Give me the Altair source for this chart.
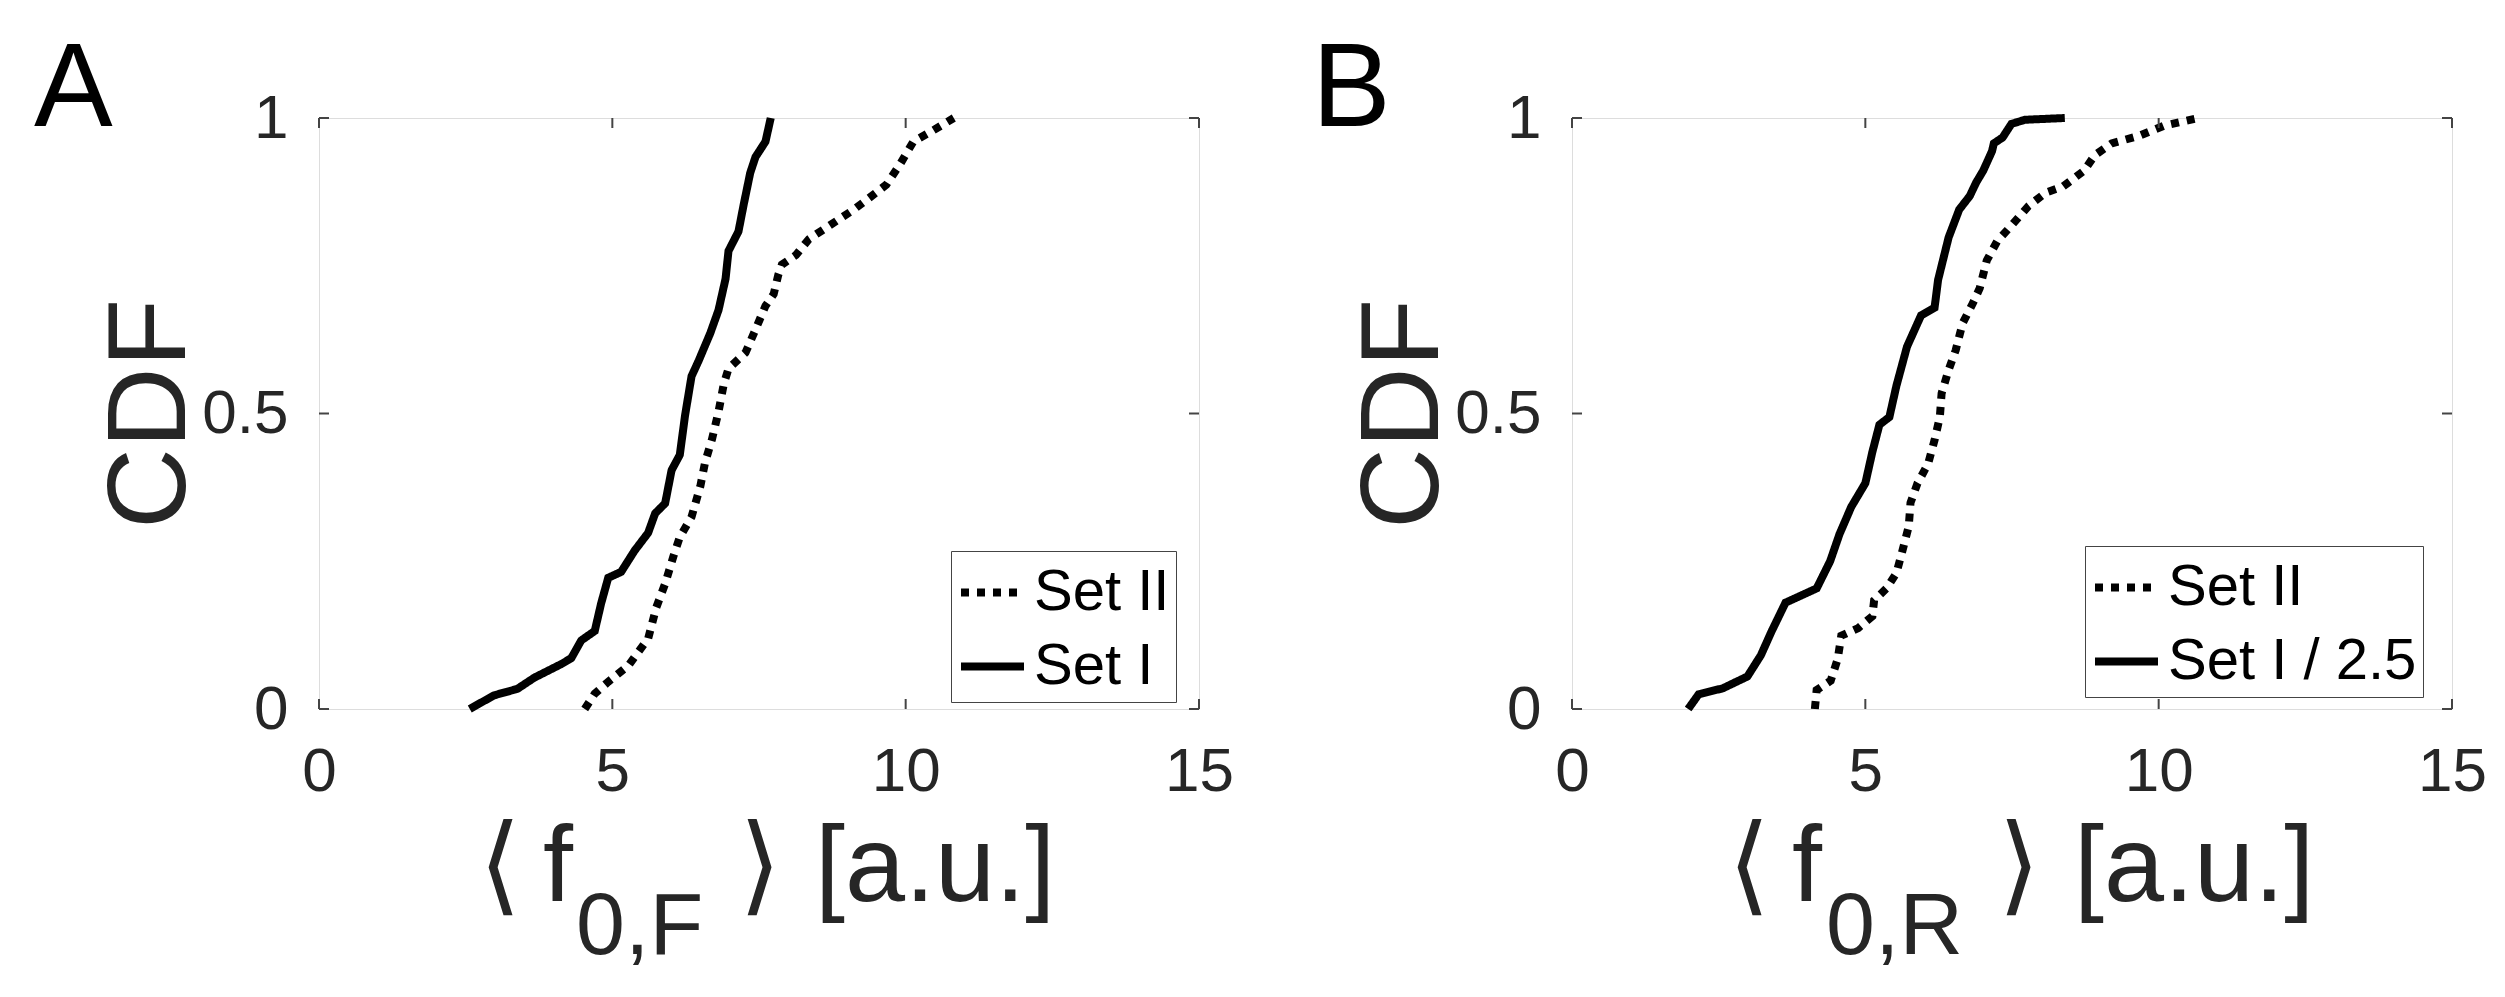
import altair as alt
import pandas as pd

FONT = "Liberation Sans"
INK = "#262626"
FRAME = "#444444"
W, H = 880, 591

x_ticks = [0, 5, 10, 15]
y_ticks = [0, 0.5, 1]

# panel A: <f0,F>
a_set1_x = [2.57, 2.98, 3.38, 3.67, 4.13, 4.30, 4.47, 4.70, 4.81, 4.93,
            5.15, 5.38, 5.61, 5.73, 5.90, 6.01, 6.15, 6.24, 6.35, 6.47,
            6.67, 6.81, 6.93, 6.98, 7.15, 7.24, 7.35, 7.44, 7.61, 7.70]
a_set1_y = [0.0, 0.023, 0.034, 0.053, 0.076, 0.086, 0.116, 0.132, 0.179, 0.222,
            0.232, 0.268, 0.298, 0.331, 0.348, 0.404, 0.430, 0.497, 0.563, 0.589,
            0.636, 0.675, 0.728, 0.775, 0.808, 0.854, 0.907, 0.934, 0.960, 1.0]
a_set2_x = [4.53, 4.70, 4.93, 5.27, 5.61, 5.75, 5.90, 6.04, 6.15, 6.35,
            6.50, 6.58, 6.70, 6.81, 6.90, 6.98, 7.27, 7.44, 7.61, 7.75,
            7.83, 7.89, 8.13, 8.35, 8.70, 9.10, 9.33, 9.67, 9.90, 10.13,
            10.45, 10.82]
a_set2_y = [0.0, 0.026, 0.046, 0.073, 0.119, 0.172, 0.212, 0.258, 0.291, 0.325,
            0.377, 0.417, 0.457, 0.503, 0.550, 0.576, 0.603, 0.642, 0.682, 0.702,
            0.735, 0.752, 0.768, 0.795, 0.818, 0.844, 0.861, 0.887, 0.921, 0.960,
            0.978, 1.0]

# panel B: <f0,R>
b_set1_x = [1.98, 2.16, 2.57, 2.99, 3.22, 3.40, 3.64, 4.17, 4.40, 4.56,
            4.76, 5.00, 5.12, 5.24, 5.41, 5.53, 5.71, 5.95, 6.18, 6.24,
            6.42, 6.60, 6.78, 6.89, 7.01, 7.16, 7.19, 7.34, 7.49, 7.72, 8.40]
b_set1_y = [0.0, 0.025, 0.035, 0.055, 0.091, 0.131, 0.180, 0.204, 0.250, 0.296,
            0.342, 0.382, 0.435, 0.481, 0.494, 0.547, 0.613, 0.666, 0.679, 0.726,
            0.798, 0.845, 0.868, 0.891, 0.911, 0.944, 0.957, 0.967, 0.990, 0.997, 1.0]
b_set2_x = [4.14, 4.17, 4.41, 4.53, 4.59, 4.88, 5.12, 5.15, 5.36, 5.53,
            5.62, 5.74, 5.77, 5.89, 6.07, 6.18, 6.27, 6.30, 6.42, 6.54,
            6.66, 6.83, 6.95, 7.07, 7.25, 7.49, 7.78, 8.08, 8.37, 8.73,
            8.91, 9.20, 9.67, 10.09, 10.68]
b_set2_y = [0.0, 0.032, 0.048, 0.085, 0.124, 0.137, 0.157, 0.184, 0.204, 0.230,
            0.263, 0.309, 0.349, 0.382, 0.415, 0.455, 0.494, 0.534, 0.574, 0.607,
            0.653, 0.686, 0.712, 0.759, 0.792, 0.818, 0.851, 0.874, 0.884, 0.911,
            0.937, 0.957, 0.970, 0.987, 1.0]


def text_layer(txt, x, y, size, color=INK, family=FONT):
    return alt.Chart(pd.DataFrame({"t": [txt]})).mark_text(
        align="left", baseline="alphabetic", fontSize=size, font=family, color=color
    ).encode(x=alt.value(x), y=alt.value(y), text="t:N")


def panel(letter, letter_x, s1x, s1y, s1name, s2x, s2y, sub, pos, legend_xy):
    rows = []
    for name, xs, ys in [("Set II", s2x, s2y), (s1name, s1x, s1y)]:
        for i, (xv, yv) in enumerate(zip(xs, ys)):
            rows.append({"x": xv, "cdf": yv, "series": name, "idx": i})
    df = pd.DataFrame(rows)

    xscale = alt.Scale(domain=[0, 15], nice=False, zero=False)
    yscale = alt.Scale(domain=[0, 1], nice=False)
    xaxis = alt.Axis(values=x_ticks, ticks=False, domain=False, grid=False,
                     labelFontSize=62, labelFont=FONT, labelColor=INK,
                     labelPadding=32, labelFlush=False, title=None)
    yaxis = alt.Axis(values=y_ticks, format="~g", ticks=False, domain=False, grid=False,
                     labelFontSize=62, labelFont=FONT, labelColor=INK, labelPadding=31,
                     labelFlush=False,
                     title="CDF", titleFontSize=112, titleFont=FONT, titleFontWeight="normal",
                     titleColor=INK, titleX=-135, titleY=H / 2, titleAngle=270,
                     titleBaseline="alphabetic", titleAlign="center")

    lines = alt.Chart(df).mark_line(color="black", strokeWidth=8, strokeCap="butt").encode(
        x=alt.X("x:Q", scale=xscale, axis=xaxis),
        y=alt.Y("cdf:Q", scale=yscale, axis=yaxis),
        strokeDash=alt.StrokeDash(
            "series:N",
            scale=alt.Scale(domain=["Set II", s1name], range=[[8, 8], [1, 0]]),
            legend=alt.Legend(title=None, orient="none", legendX=legend_xy[0], legendY=legend_xy[1],
                              fillColor="white", strokeColor=FRAME, padding=6,
                              labelFontSize=58, labelFont=FONT, labelColor="black", labelLimit=500,
                              labelOffset=6, symbolType="stroke", symbolSize=3969,
                              symbolStrokeWidth=8, symbolStrokeColor="black", rowPadding=9),
        ),
        order="idx:Q",
    )

    xt = pd.DataFrame({"v": x_ticks})
    yt = pd.DataFrame({"v": y_ticks})
    tick = dict(color=FRAME, strokeWidth=2)
    tx_bot = alt.Chart(xt).mark_rule(**tick).encode(
        x=alt.X("v:Q", scale=xscale, axis=xaxis), y=alt.value(H), y2=alt.value(H - 10))
    tx_top = alt.Chart(xt).mark_rule(**tick).encode(
        x=alt.X("v:Q", scale=xscale, axis=xaxis), y=alt.value(0), y2=alt.value(10))
    ty_left = alt.Chart(yt).mark_rule(**tick).encode(
        y=alt.Y("v:Q", scale=yscale, axis=yaxis), x=alt.value(0), x2=alt.value(10))
    ty_right = alt.Chart(yt).mark_rule(**tick).encode(
        y=alt.Y("v:Q", scale=yscale, axis=yaxis), x=alt.value(W - 10), x2=alt.value(W))

    base_y, sub_y = 783, 836
    texts = [
        text_layer(letter, letter_x, 8, 118, color="black"),
        text_layer("\u27e8", pos[0], base_y, 108, family="DejaVu Sans"),
        text_layer("f", pos[1], base_y, 108),
        text_layer(sub, pos[2], sub_y, 88),
        text_layer("\u27e9", pos[3], base_y, 108, family="DejaVu Sans"),
        text_layer("[a.u.]", pos[4], base_y, 108),
    ]
    return alt.layer(lines, tx_bot, tx_top, ty_left, ty_right, *texts).properties(width=W, height=H)


pa = panel("A", -285, a_set1_x, a_set1_y, "Set I", a_set2_x, a_set2_y, "0,F",
           [160, 224, 257, 420, 496], (632, 433))
pb = panel("B", -260, b_set1_x, b_set1_y, "Set I / 2.5", b_set2_x, b_set2_y, "0,R",
           [156, 220, 254, 426, 502], (513, 428))

chart = alt.hconcat(pa, pb, spacing=77).resolve_scale(
    strokeDash="independent"
).resolve_legend(
    strokeDash="independent"
).properties(
    padding={"left": 25, "top": 23, "right": 5, "bottom": 5}
).configure_view(stroke=FRAME, strokeWidth=2).configure(background="white")

chart.save("out.html", embed_options={"renderer": "svg", "actions": False})
